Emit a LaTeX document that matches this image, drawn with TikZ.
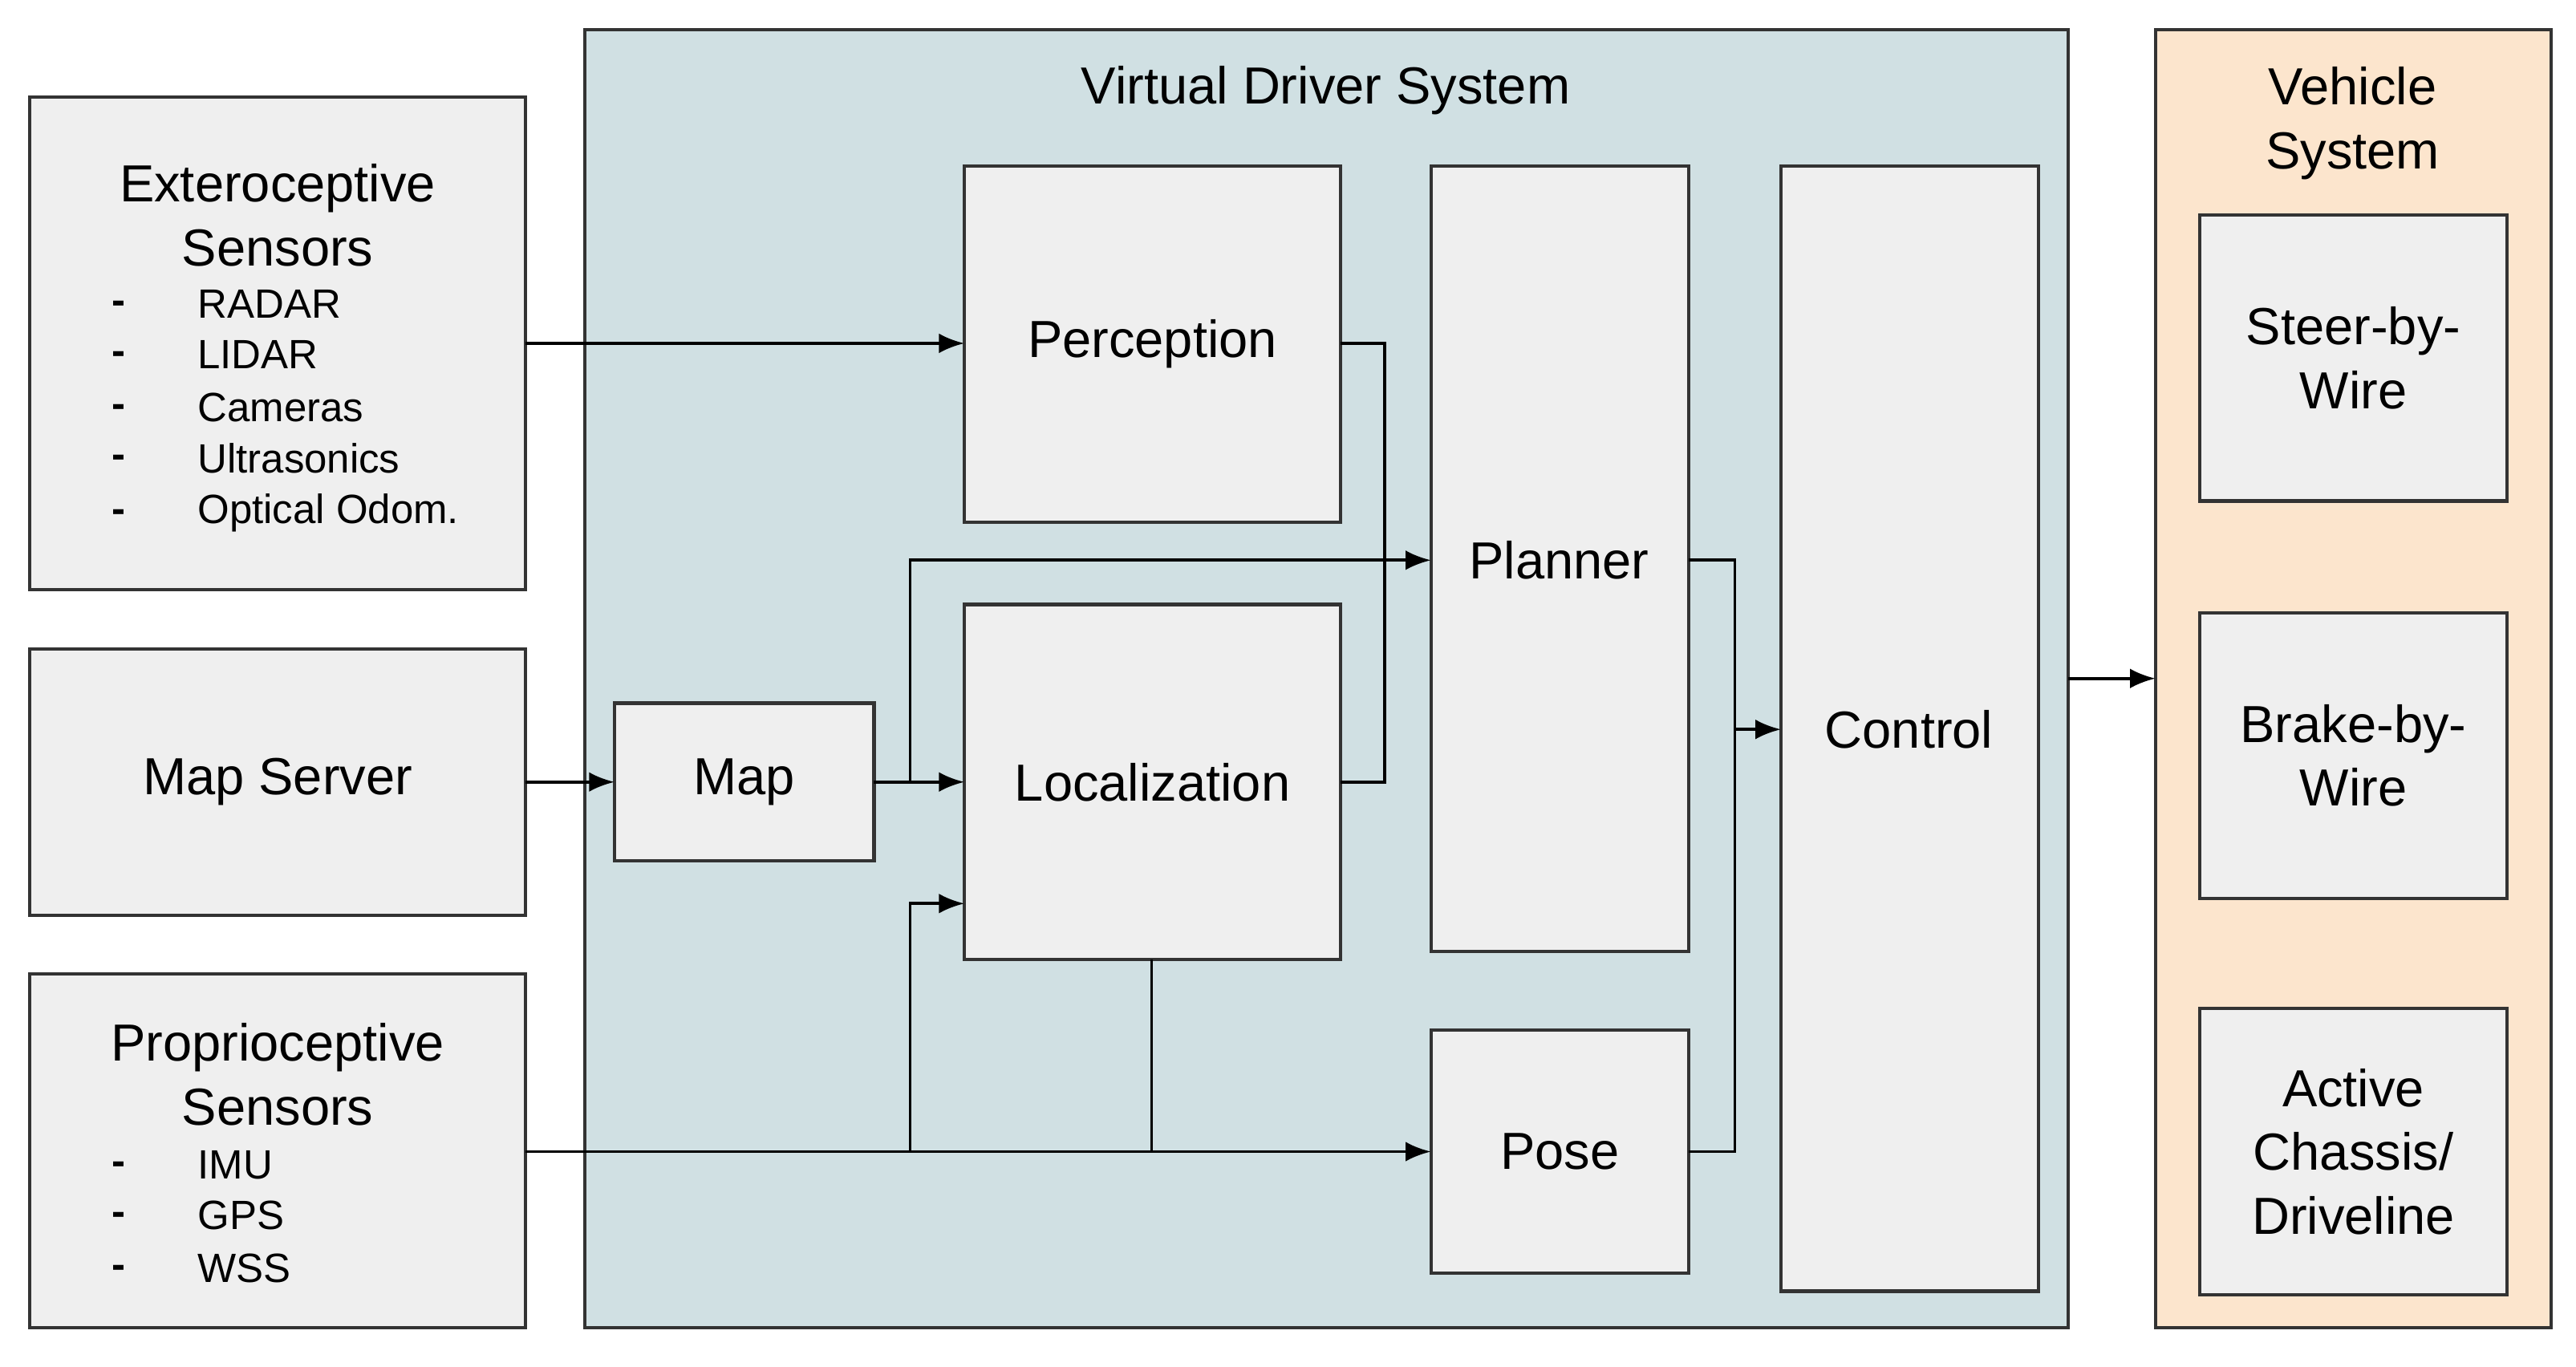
\documentclass[tikz,border=0pt]{standalone}
\usepackage{fontspec}
\setmainfont{Liberation Sans}
\usetikzlibrary{arrows.meta,calc}
\definecolor{boxfill}{HTML}{EFEFEF}
\definecolor{vdsfill}{HTML}{D0E0E3}
\definecolor{vehfill}{HTML}{FCE5CD}
\begin{document}
\begin{tikzpicture}[x=0.02048cm,y=-0.02048cm,
  box/.style={draw=black!80,line width=1.2pt,fill=boxfill},
  lbl/.style={font=\fontsize{18.5}{22.6}\selectfont,align=center},
  item/.style={font=\fontsize{14.5}{16}\selectfont,anchor=west,inner sep=0},
  bullet dash/.style={font=\fontsize{14.5}{16}\bfseries\selectfont,anchor=west,inner sep=0},
  conn/.style={draw=black,line width=1.1pt},
  arr/.style={conn,-{Latex[length=9pt,width=7pt]}}]
\useasboundingbox (0,0) rectangle (1568,832);
% backgrounds
\draw[fill=vdsfill,draw=black!80,line width=1.2pt] (356,18) rectangle (1259,808);
\node[lbl] (vdst) at (807,55) {Virtual Driver System};
\draw[fill=vehfill,draw=black!80,line width=1.2pt] (1312,18) rectangle (1553,808);
\node[lbl] (veht) at (1432,75) {Vehicle\\System};
% left boxes
\draw[box] (18,59) rectangle (320,359);
\coordinate (ext) at (320,209);
\node[lbl] at (169,131) {Exteroceptive\\Sensors};
\foreach \y/\t in {185/RADAR,216/LIDAR,248/Cameras,279/Ultrasonics,312/Optical Odom.}{
  \node[bullet dash] at (68,\y+2) {-}; \node[item] at (120,\y) {\t};}
\draw[box] (18,395) rectangle (320,557);
\node[lbl] (msl) at (169,476) {Map Server};
\coordinate (ms) at (320,476);
\draw[box] (18,593) rectangle (320,808);
\coordinate (pro) at (320,701);
\node[lbl] at (169,654) {Proprioceptive\\Sensors};
\foreach \y/\t in {709/IMU,740/GPS,772/WSS}{
  \node[bullet dash] at (68,\y+2) {-}; \node[item] at (120,\y) {\t};}
% inner boxes
\newcommand{\bx}[6]{\draw[box] (#1,#2) rectangle (#3,#4);
  \node[lbl,inner sep=0] (#5) at ({(#1+#3)/2},{(#2+#4)/2}) {#6};}
\bx{587}{101}{816}{318}{per}{Perception}
\bx{587}{368}{816}{584}{loc}{Localization}
\bx{374}{428}{532}{524}{map}{Map}
\draw[box] (871,101) rectangle (1028,579); \node[lbl] (pla) at (949,341) {Planner};
\bx{871}{627}{1028}{775}{pose}{Pose}
\draw[box] (1084,101) rectangle (1241,786); \node[lbl] (con) at (1162,444) {Control};
\bx{1339}{131}{1526}{305}{steer}{Steer-by-\\Wire}
\bx{1339}{373}{1526}{547}{brake}{Brake-by-\\Wire}
\bx{1339}{614}{1526}{788}{act}{Active\\Chassis/\\Driveline}
\coordinate (perE) at (816,209); \coordinate (locE) at (816,476); \coordinate (locW) at (587,476);
\coordinate (mapW) at (374,476); \coordinate (mapE) at (532,476);
\coordinate (poseW) at (871,701); \coordinate (poseE) at (1028,701);
% connectors
\draw[arr] (ext) -- (587,209);
\draw[arr] (ms) -- (mapW);
\draw[arr] (mapE) -- (locW);
\draw[arr] (554,476) -- (554,341) -- (871,341);
\draw[arr] (pro) -- (poseW);
\draw[arr] (554,701) -- (554,550) -- (587,550);
\draw[conn] (701,584) -- (701,701);
\draw[conn] (perE) -- (843,209) -- (843,476) -- (locE);
\draw[conn] (1028,341) -- (1056,341) -- (1056,701) -- (poseE);
\draw[arr] (1056,444) -- (1084,444);
\draw[arr] (1259,413) -- (1312,413);
\end{tikzpicture}
\end{document}
